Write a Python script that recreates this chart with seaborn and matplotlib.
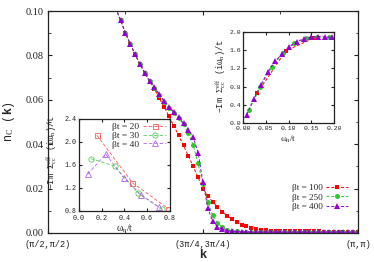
import numpy as np
import pandas as pd
import matplotlib
matplotlib.use("Agg")
import matplotlib.pyplot as plt
from matplotlib.ticker import MultipleLocator, FixedLocator
import seaborn as sns

# ---------------- data ----------------
# k along the diagonal, in units of pi (from pi/2 to pi), grid step pi/128
k_start, k_stop = 14, 65
k_over_pi = 0.5 + np.arange(k_start, k_stop) / 128.0

n_b100 = [0.1014, 0.0958, 0.0902, 0.0851, 0.0805, 0.0761, 0.0721, 0.0682, 0.0649, 0.0606,
          0.0568, 0.0527, 0.0482, 0.0439, 0.0394, 0.0347, 0.0300, 0.0250, 0.0200, 0.0167,
          0.0141, 0.0118, 0.0096, 0.0078, 0.0062, 0.0048, 0.0037, 0.0029, 0.0022, 0.0017,
          0.0013, 0.0011, 0.0010, 0.0009, 0.0009, 0.0008, 0.0008, 0.0008, 0.0007, 0.0007,
          0.0007, 0.0007, 0.0007, 0.0006, 0.0006, 0.0006, 0.0006, 0.0006, 0.0006, 0.0006,
          0.0006]
n_b250 = [0.1014, 0.0958, 0.0902, 0.0851, 0.0805, 0.0761, 0.0721, 0.0684, 0.0655, 0.0622,
          0.0592, 0.0565, 0.0541, 0.0517, 0.0489, 0.0449, 0.0394, 0.0314, 0.0221, 0.0141,
          0.0081, 0.0046, 0.0026, 0.0014, 0.0009, 0.0007, 0.0006, 0.0005, 0.0005, 0.0005,
          0.0004, 0.0004, 0.0004, 0.0004, 0.0004, 0.0004, 0.0004, 0.0004, 0.0004, 0.0004,
          0.0004, 0.0004, 0.0004, 0.0004, 0.0004, 0.0004, 0.0004, 0.0004, 0.0004, 0.0004,
          0.0004]
n_b400 = [0.1014, 0.0958, 0.0902, 0.0851, 0.0805, 0.0761, 0.0721, 0.0684, 0.0656, 0.0624,
          0.0595, 0.0568, 0.0545, 0.0521, 0.0494, 0.0466, 0.0432, 0.0362, 0.0230, 0.0113,
          0.0052, 0.0028, 0.0017, 0.0010, 0.0007, 0.0006, 0.0005, 0.0005, 0.0004, 0.0004,
          0.0004, 0.0004, 0.0004, 0.0004, 0.0004, 0.0004, 0.0004, 0.0004, 0.0004, 0.0004,
          0.0004, 0.0004, 0.0004, 0.0004, 0.0004, 0.0004, 0.0004, 0.0004, 0.0004, 0.0004,
          0.0004]

# right inset: low temperatures
w_b100 = [0.0314, 0.0942, 0.1571]
s_b100 = [0.66, 1.59, 1.87]
w_b250 = [0.0126, 0.0377, 0.0628, 0.0880, 0.1131, 0.1382, 0.1634, 0.1885]
s_b250 = [0.28, 0.78, 1.22, 1.54, 1.75, 1.86, 1.89, 1.88]
w_b400 = [0.0079, 0.0236, 0.0393, 0.0550, 0.0707, 0.0864, 0.1021, 0.1178, 0.1335,
          0.1492, 0.1649, 0.1806, 0.1963]
s_b400 = [0.18, 0.53, 0.84, 1.13, 1.36, 1.52, 1.68, 1.79, 1.85, 1.89, 1.90, 1.89, 1.88]

# left inset: high temperatures
w_b20 = [0.157, 0.471, 0.785]
s_b20 = [2.12, 1.29, 0.84]
w_b30 = [0.105, 0.314, 0.524, 0.733]
s_b30 = [1.71, 1.58, 1.11, 0.83]
w_b40 = [0.079, 0.236, 0.393, 0.550, 0.707]
s_b40 = [1.44, 1.79, 1.38, 1.07, 0.86]

main_labels = ["βt = 100", "βt = 250", "βt = 400"]
inset_labels = ["βt = 20", "βt = 30", "βt = 40"]
x_tick_pos = [0.5, 0.75, 1.0]
x_tick_labels = ["(π/2,π/2)", "(3π/4,3π/4)", "(π,π)"]

RED = "#ff0000"
GREEN = "#2ec82e"
PURPLE = "#9400d3"

# ---------------- style ----------------
sns.set_style("ticks")
plt.rcParams.update({
    "font.family": ["Liberation Serif", "DejaVu Sans"],
    "mathtext.fontset": "custom",
    "mathtext.rm": "Liberation Serif",
    "mathtext.it": "Liberation Serif:italic",
    "mathtext.bf": "Liberation Sans:bold",
    "xtick.direction": "in",
    "ytick.direction": "in",
    "xtick.top": True,
    "ytick.right": True,
    "axes.edgecolor": "#222222",
    "axes.linewidth": 0.9,
    "xtick.major.size": 3.0,
    "ytick.major.size": 3.0,
    "xtick.minor.size": 1.8,
    "ytick.minor.size": 1.8,
    "xtick.color": "#222222",
    "ytick.color": "#222222",
})

fig = plt.figure(figsize=(3.74, 2.62), dpi=100)
ax = fig.add_axes([0.128, 0.111, 0.829, 0.847])

main_df = pd.DataFrame({"k": k_over_pi, "b100": n_b100, "b250": n_b250, "b400": n_b400})

line_kw = dict(linestyle=(0, (3, 2)), linewidth=0.7)
sns.lineplot(data=main_df, x="k", y="b100", ax=ax, color=RED, marker="s", markersize=3.4,
             markeredgewidth=0, label=main_labels[0], **line_kw)
sns.lineplot(data=main_df, x="k", y="b250", ax=ax, color=GREEN, marker="o", markersize=3.6,
             markeredgewidth=0, label=main_labels[1], **line_kw)
sns.lineplot(data=main_df, x="k", y="b400", ax=ax, color=PURPLE, marker="^", markersize=3.8,
             markeredgewidth=0, label=main_labels[2], **line_kw)

ax.set_xlim(0.5, 1.0)
ax.set_ylim(0.0, 0.10)
ax.xaxis.set_major_locator(FixedLocator(x_tick_pos))
ax.xaxis.set_minor_locator(FixedLocator([0.625, 0.875]))
ax.set_xticklabels(x_tick_labels, fontfamily="Liberation Mono", fontsize=6.2)
ax.yaxis.set_minor_locator(MultipleLocator(0.01))
ax.set_yticks([0.0, 0.02, 0.04, 0.06, 0.08, 0.10])
ax.set_yticklabels(["0.00", "0.02", "0.04", "0.06", "0.08", "0.10"], fontsize=7.5)
ax.tick_params(axis="x", which="major", pad=5)
ax.tick_params(axis="y", which="major", pad=3)
ax.set_xlabel("k", fontfamily="Liberation Sans", fontweight="bold", fontsize=9, labelpad=0)
ax.set_ylabel(r"n$_\mathrm{C}$ ($\mathbf{k}$)", fontfamily="Liberation Mono", fontsize=8.5, labelpad=6)

leg = ax.legend(loc="lower right", bbox_to_anchor=(0.99, 0.07), frameon=False, fontsize=6.6,
                markerfirst=False, handlelength=2.4, handletextpad=0.4, labelspacing=0.1,
                borderpad=0.2)

# ---------------- right inset ----------------
axr = fig.add_axes([0.650, 0.531, 0.243, 0.347])
sns.lineplot(x=w_b100, y=s_b100, ax=axr, color=RED, marker="s", markersize=3.4,
             markeredgewidth=0, **line_kw)
sns.lineplot(x=w_b250, y=s_b250, ax=axr, color=GREEN, marker="o", markersize=3.6,
             markeredgewidth=0, **line_kw)
sns.lineplot(x=w_b400, y=s_b400, ax=axr, color=PURPLE, marker="^", markersize=3.8,
             markeredgewidth=0, **line_kw)
axr.set_xlim(0.0, 0.2)
axr.set_ylim(0.0, 2.0)
axr.set_xticks([0.0, 0.05, 0.10, 0.15, 0.20])
axr.set_xticklabels(["0.00", "0.05", "0.10", "0.15", "0.20"], fontfamily="Liberation Mono", fontsize=4.6)
axr.set_yticks([0.0, 0.4, 0.8, 1.2, 1.6, 2.0])
axr.set_yticklabels(["0.0", "0.4", "0.8", "1.2", "1.6", "2.0"], fontfamily="Liberation Mono", fontsize=4.6)
axr.tick_params(which="major", length=2.2, pad=1.5)
axr.tick_params(axis="x", which="major", pad=2.5)
axr.set_xlabel(r"ω$_\mathrm{n}$/t", fontsize=6.5, labelpad=1.5)
axr.set_ylabel(r"$-$Im $\Sigma_\mathrm{cc}^\mathrm{eff}$ (iω$_\mathrm{n}$)/t",
               fontfamily="Liberation Mono", fontsize=6.3)
axr.yaxis.set_label_coords(-0.17, 0.52)

# ---------------- left inset ----------------
axl = fig.add_axes([0.211, 0.195, 0.243, 0.351])
thin_kw = dict(linestyle=(0, (4, 2.5)), linewidth=0.6)
sns.lineplot(x=w_b20, y=s_b20, ax=axl, color="#ff5555", marker="s", markersize=3.6,
             markerfacecolor="none", markeredgewidth=0.6, markeredgecolor="#ff5555",
             label=inset_labels[0], **thin_kw)
sns.lineplot(x=w_b30, y=s_b30, ax=axl, color="#55cc55", marker="o", markersize=3.8,
             markerfacecolor="none", markeredgewidth=0.6, markeredgecolor="#55cc55",
             label=inset_labels[1], **thin_kw)
sns.lineplot(x=w_b40, y=s_b40, ax=axl, color="#b366ee", marker="^", markersize=4.0,
             markerfacecolor="none", markeredgewidth=0.6, markeredgecolor="#b366ee",
             label=inset_labels[2], **thin_kw)
axl.set_xlim(0.0, 0.8)
axl.set_ylim(0.8, 2.4)
axl.set_xticks([0.0, 0.2, 0.4, 0.6, 0.8])
axl.set_xticklabels(["0.0", "0.2", "0.4", "0.6", "0.8"], fontfamily="Liberation Mono", fontsize=4.9)
axl.set_yticks([0.8, 1.2, 1.6, 2.0, 2.4])
axl.set_yticklabels(["0.8", "1.2", "1.6", "2.0", "2.4"], fontfamily="Liberation Mono", fontsize=4.9)
axl.tick_params(axis="y", which="major", length=2.2, pad=2.0)
axl.tick_params(axis="x", which="major", length=2.2, pad=3.0)
axl.set_xlabel(r"ω$_\mathrm{n}$/t", fontsize=7, labelpad=0.5)
axl.set_ylabel(r"$-$Im $\Sigma_\mathrm{cc}^\mathrm{eff}$ (iω$_\mathrm{n}$)/t",
               fontfamily="Liberation Mono", fontsize=6.3)
axl.yaxis.set_label_coords(-0.22, 0.64)
axl.legend(loc="upper right", frameon=False, fontsize=6.8, markerfirst=False,
           handlelength=2.4, handletextpad=0.4, labelspacing=0.0, borderpad=0.15,
           borderaxespad=0.25)

fig.savefig("out.png", dpi=100)
